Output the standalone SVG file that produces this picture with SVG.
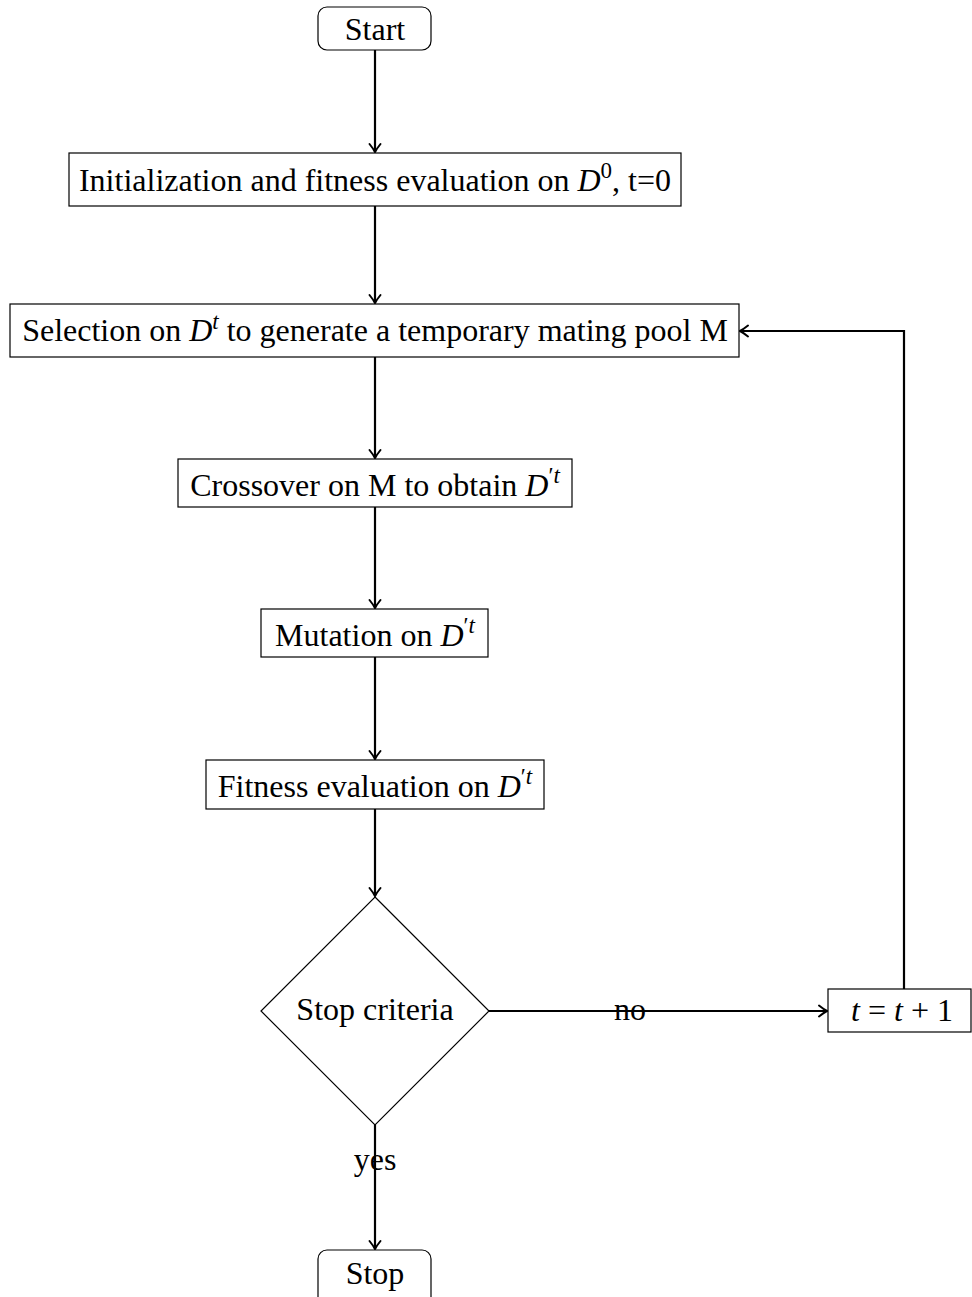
<svg xmlns="http://www.w3.org/2000/svg" width="972" height="1297" viewBox="0 0 972 1297">
<style>
.box{fill:#fff;stroke:#000;stroke-width:1.2}
.t{font-family:"Liberation Serif","Times New Roman",serif;font-size:32px;fill:#000;text-anchor:middle}
.i{font-style:italic}
.c{fill:none;stroke:#000;stroke-width:2.2}
</style>
<defs>
<marker id="arr" markerWidth="14" markerHeight="14" refX="11" refY="7" orient="auto" markerUnits="userSpaceOnUse">
<path d="M3,1.5 Q8,5.5 11,7 Q8,8.5 3,12.5" fill="none" stroke="#000" stroke-width="2" stroke-linecap="round"/>
</marker>
</defs>
<g id="connectors">
<line class="c" x1="375" y1="50" x2="375" y2="152" marker-end="url(#arr)"/>
<line class="c" x1="375" y1="206" x2="375" y2="303" marker-end="url(#arr)"/>
<line class="c" x1="375" y1="357" x2="375" y2="458" marker-end="url(#arr)"/>
<line class="c" x1="375" y1="507" x2="375" y2="608" marker-end="url(#arr)"/>
<line class="c" x1="375" y1="657" x2="375" y2="759" marker-end="url(#arr)"/>
<line class="c" x1="375" y1="809" x2="375" y2="896" marker-end="url(#arr)"/>
<line class="c" x1="489" y1="1011" x2="827" y2="1011" marker-end="url(#arr)"/>
<polyline class="c" points="904,989 904,331 740,331" marker-end="url(#arr)"/>
<line class="c" x1="375" y1="1125" x2="375" y2="1249" marker-end="url(#arr)"/>
<text class="t" x="630" y="1020">no</text>
<text class="t" x="375" y="1170">yes</text>
</g>
<g id="start">
<rect class="box" x="318" y="7" width="113" height="43" rx="9"/>
<text class="t" x="375" y="40">Start</text>
</g>
<g id="init">
<rect class="box" x="69" y="153" width="612" height="53"/>
<text class="t" x="375" y="191">Initialization and fitness evaluation on <tspan class="i">D</tspan><tspan font-size="23" dy="-13">0</tspan><tspan dy="13">, t=0</tspan></text>
</g>
<g id="selection">
<rect class="box" x="10" y="304" width="729" height="53"/>
<text class="t" x="375" y="341">Selection on <tspan class="i">D</tspan><tspan class="i" font-size="23" dy="-12">t</tspan><tspan dy="12"> to generate a temporary mating pool M</tspan></text>
</g>
<g id="crossover">
<rect class="box" x="178" y="459" width="394" height="48"/>
<text class="t" x="375" y="496">Crossover on M to obtain <tspan class="i">D</tspan><tspan font-size="23" dy="-13">′</tspan><tspan class="i" font-size="23">t</tspan><tspan dy="13"></tspan></text>
</g>
<g id="mutation">
<rect class="box" x="261" y="609" width="227" height="48"/>
<text class="t" x="375" y="646">Mutation on <tspan class="i">D</tspan><tspan font-size="23" dy="-13">′</tspan><tspan class="i" font-size="23">t</tspan><tspan dy="13"></tspan></text>
</g>
<g id="fitness">
<rect class="box" x="206" y="760" width="338" height="49"/>
<text class="t" x="375" y="797">Fitness evaluation on <tspan class="i">D</tspan><tspan font-size="23" dy="-13">′</tspan><tspan class="i" font-size="23">t</tspan><tspan dy="13"></tspan></text>
</g>
<g id="decision">
<polygon class="box" points="375,897 489,1011 375,1125 261,1011"/>
<text class="t" x="375" y="1020">Stop criteria</text>
</g>
<g id="increment">
<rect class="box" x="828" y="989" width="143" height="43"/>
<text class="t" x="902" y="1021"><tspan class="i">t</tspan> = <tspan class="i">t</tspan> + 1</text>
</g>
<g id="stop">
<rect class="box" x="318" y="1250" width="113" height="60" rx="9"/>
<text class="t" x="375" y="1284">Stop</text>
</g>
</svg>
